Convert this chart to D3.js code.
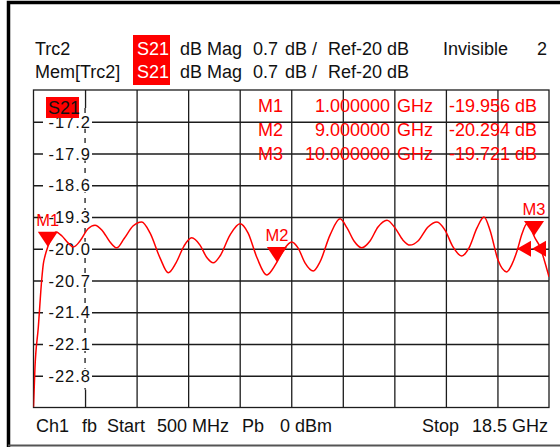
<!DOCTYPE html>
<html>
<head>
<meta charset="utf-8">
<script src="https://cdn.jsdelivr.net/npm/d3@7"></script>
<style>
  html, body { margin: 0; padding: 0; background: #fff; }
  svg { display: block; }
  text { font-family: "Liberation Sans", Arial, sans-serif; }
</style>
</head>
<body>
<svg id="chart" width="560" height="447"></svg>
<script>
// ---------- data ----------
const freqGHz = [
  0.50,0.552,0.668,0.786,0.842,0.902,1.0,1.146,1.286,1.495,
  1.705,1.890,2.124,2.403,2.647,2.892,3.171,3.405,3.660,3.974,
  4.278,4.568,4.917,5.207,5.476,5.755,6.024,6.314,6.558,6.778,
  7.012,7.361,7.711,7.990,8.304,8.643,8.828,9.0,9.247,9.516,
  9.736,9.980,10.270,10.504,10.853,11.203,11.447,11.691,11.960,12.250,
  12.529,12.843,13.123,13.402,13.646,13.926,14.275,14.589,14.869,15.148,
  15.452,15.707,15.986,16.231,16.440,16.720,17.023,17.209,17.383,17.558,
  17.732,17.872,17.977,18.186,18.326,18.5
];
const s21dB = [
  -23.49,-22.61,-21.73,-20.69,-20.34,-20.16,-19.956,-19.74,-19.63,-19.72,
  -19.87,-19.96,-19.83,-19.56,-19.48,-19.59,-19.85,-19.98,-19.78,-19.50,
  -19.41,-19.65,-20.20,-20.53,-20.31,-19.94,-19.76,-19.92,-20.20,-20.31,
  -20.16,-19.70,-19.45,-19.65,-20.20,-20.58,-20.47,-20.294,-20.01,-19.85,
  -19.98,-20.31,-20.49,-20.29,-19.70,-19.34,-19.54,-19.83,-19.98,-19.83,
  -19.52,-19.37,-19.54,-19.81,-19.92,-19.83,-19.52,-19.41,-19.59,-19.96,
  -20.16,-19.98,-19.54,-19.30,-19.59,-20.25,-20.51,-20.34,-20.05,-19.67,
  -19.45,-19.54,-19.72,-19.96,-20.23,-20.62
];
const yTickValues = [-17.2,-17.9,-18.6,-19.3,-20.0,-20.7,-21.4,-22.1,-22.8];
const yTickLabels = ["-17.2","-17.9","-18.6","-19.3","-20.0","-20.7","-21.4","-22.1","-22.8"];
const xGridValues = [2.3,4.1,5.9,7.7,9.5,11.3,13.1,14.9,16.7];
const markerNames = ["M1","M2","M3"];
const markerFreqText = ["1.000000","9.000000","10.000000"];
const markerValueText = ["-19.956","-20.294","-19.721"];
const markerPlotFreq = [1.0, 9.0, 17.977];
const markerPlotdB = [-19.956, -20.294, -19.72];
const refLevel = -20;

// ---------- layout ----------
const svg = d3.select("#chart");
const L = 33.5, R = 549, T = 90, B = 407.5;
const x = d3.scaleLinear().domain([0.5, 18.5]).range([L, R]);
const y = d3.scaleLinear().domain([-23.5, -16.5]).range([B, T]);
const RED = "#ff0000";
const GRID = "#1c1c1c";

svg.append("rect").attr("width", 560).attr("height", 447).attr("fill", "#fff");

// outer frame
svg.append("path").attr("d", "M8.5,447 L8.5,2.5 L560,2.5")
  .attr("fill", "none").attr("stroke", "#000").attr("stroke-width", 3.5);
svg.append("line").attr("x1", 8).attr("x2", 560).attr("y1", 445.5).attr("y2", 445.5)
  .attr("stroke", "#555").attr("stroke-width", 2);

// header
const hdr = svg.append("g").attr("font-size", 18).attr("fill", "#111");
svg.insert("rect").attr("x", 133).attr("y", 35).attr("width", 37).attr("height", 50).attr("fill", RED);
const hdrRows = [
  {yb: 55, items: [["Trc2",35],["dB Mag",180],["0.7",253],["dB /",285],["Ref-20 dB",328],["Invisible",443]]},
  {yb: 78, items: [["Mem[Trc2]",35],["dB Mag",180],["0.7",253],["dB /",285],["Ref-20 dB",328]]}
];
hdrRows.forEach(r => {
  r.items.forEach(([t, xx]) => {
    svg.append("text").attr("x", xx).attr("y", r.yb).attr("font-size", 18).attr("fill", "#111").text(t);
  });
  svg.append("text").attr("x", 137).attr("y", r.yb).attr("font-size", 18).attr("fill", "#fff").text("S21");
});
svg.append("text").attr("x", 547).attr("y", 55).attr("text-anchor", "end").attr("font-size", 18).attr("fill", "#111").text("2");

// grid via axes
const gx = svg.append("g").attr("transform", `translate(0,${B})`)
  .call(d3.axisBottom(x).tickValues(xGridValues).tickSize(-(B - T)).tickFormat(""));
gx.select(".domain").remove();
gx.selectAll(".tick line").attr("stroke", GRID).attr("stroke-width", 1.3)
  .attr("stroke-dasharray", (d, i) => i === 0 ? "none" : null);

const gy = svg.append("g").attr("transform", `translate(${L},0)`)
  .call(d3.axisLeft(y).tickValues(yTickValues).tickSize(-(R - L)).tickFormat(""));
gy.select(".domain").remove();
gy.selectAll(".tick line").attr("stroke", GRID).attr("stroke-width", 1.3);

// dashed first vertical line (under label column)
svg.append("rect").attr("x", x(2.3) - 2).attr("y", T + 18).attr("width", 4).attr("height", B - T - 36).attr("fill", "#fff");
svg.append("line").attr("x1", x(2.3)).attr("x2", x(2.3)).attr("y1", T + 18).attr("y2", B - 18)
  .attr("stroke", GRID).attr("stroke-width", 1.3).attr("stroke-dasharray", "5,5");

// plot border
svg.append("rect").attr("x", L).attr("y", T).attr("width", R - L).attr("height", B - T)
  .attr("fill", "none").attr("stroke", GRID).attr("stroke-width", 1.3);

// y tick labels with white background
yTickValues.forEach((v, i) => {
  svg.append("rect").attr("x", 43).attr("y", y(v) - 7).attr("width", 49).attr("height", 14).attr("fill", "#fff");
  svg.append("text").attr("x", 91).attr("y", y(v) + 6).attr("text-anchor", "end")
    .attr("font-size", 16.5).attr("letter-spacing", 1).attr("fill", "#111").text(yTickLabels[i]);
});

// S21 tag
svg.append("rect").attr("x", 46).attr("y", 97).attr("width", 33).attr("height", 21).attr("fill", RED);
svg.append("text").attr("x", 48).attr("y", 114).attr("font-size", 18).attr("fill", "#111").text("S21");

// marker readout
markerNames.forEach((m, i) => {
  const yb = 112 + i * 24;
  const g = svg.append("g").attr("font-size", 18).attr("fill", RED);
  g.append("text").attr("x", 283).attr("y", yb).attr("text-anchor", "end").text(m);
  g.append("text").attr("x", 390).attr("y", yb).attr("text-anchor", "end").text(markerFreqText[i]);
  g.append("text").attr("x", 397).attr("y", yb).text("GHz");
  g.append("text").attr("x", 510).attr("y", yb).attr("text-anchor", "end").text(markerValueText[i]);
  g.append("text").attr("x", 515).attr("y", yb).text("dB");
});

// trace
svg.append("clipPath").attr("id", "clip").append("rect")
  .attr("x", L).attr("y", T).attr("width", R - L).attr("height", B - T + 1);
const pts = freqGHz.map((f, i) => ({f, v: s21dB[i]}));
const line = d3.line().x(d => x(d.f)).y(d => y(d.v)).curve(d3.curveMonotoneX);
svg.append("path").datum(pts).attr("d", line).attr("clip-path", "url(#clip)")
  .attr("fill", "none").attr("stroke", RED).attr("stroke-width", 1.5);

// markers
markerNames.forEach((m, i) => {
  const px = x(markerPlotFreq[i]), py = y(markerPlotdB[i]);
  svg.append("path").attr("d", `M${px},${py} L${px - 10},${py - 15} L${px + 10},${py - 15} Z`).attr("fill", RED);
  svg.append("text").attr("x", px).attr("y", py - 21).attr("text-anchor", "middle")
    .attr("font-size", 16.5).attr("fill", RED).text(m);
});

// reference level arrows
[x(18.5) - 32, x(18.5) - 17].forEach(px => {
  const py = y(refLevel);
  svg.append("path").attr("d", `M${px},${py} L${px + 14},${py - 8} L${px + 14},${py + 8} Z`).attr("fill", RED);
});

// footer
const foot = [["Ch1",36],["fb",82],["Start",107],["500 MHz",157],["Pb",242],["0 dBm",280],["Stop",422]];
foot.forEach(([t, xx]) => svg.append("text").attr("x", xx).attr("y", 432).attr("font-size", 18).attr("fill", "#111").text(t));
svg.append("text").attr("x", 548).attr("y", 432).attr("text-anchor", "end").attr("font-size", 18).attr("fill", "#111").text("18.5 GHz");
</script>
</body>
</html>
